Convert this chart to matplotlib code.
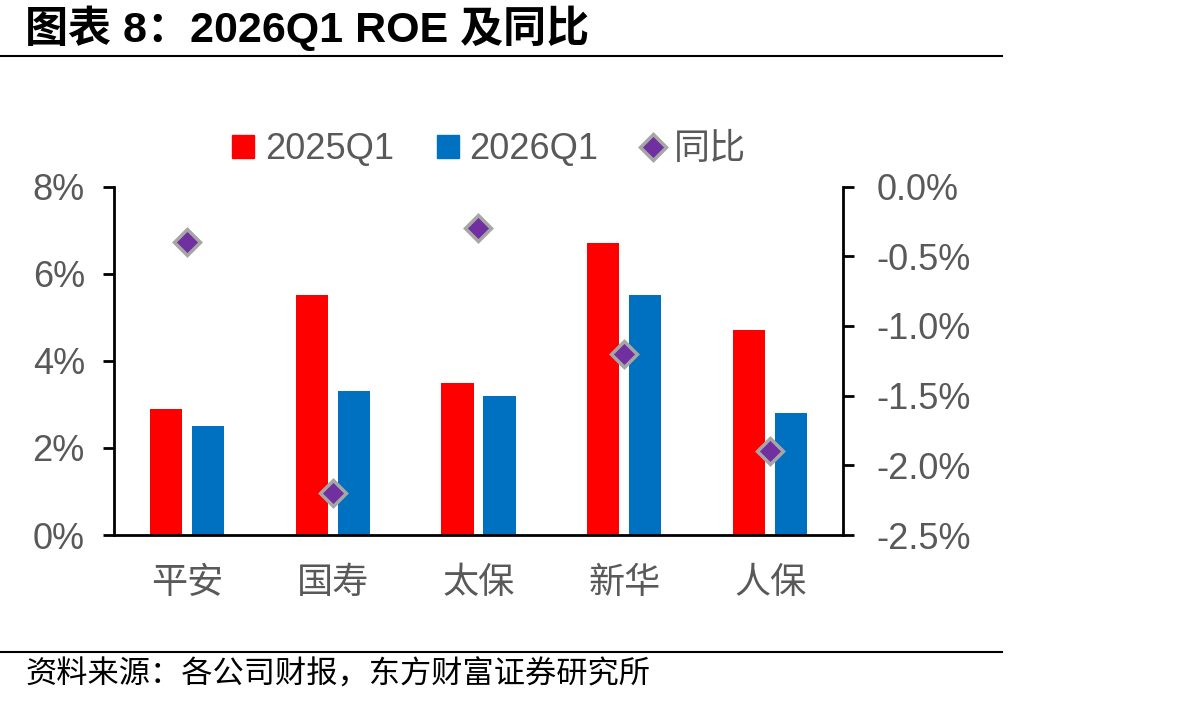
import numpy as np
import matplotlib
matplotlib.use('Agg')
import matplotlib.pyplot as plt
from matplotlib.lines import Line2D
from matplotlib.patches import Patch

plt.rcParams['font.family'] = ['Liberation Sans', 'Noto Sans CJK SC', 'DejaVu Sans']

# 数据
companies = ['平安', '国寿', '太保', '新华', '人保']
roe_2025q1 = [2.9, 5.5, 3.5, 6.7, 4.7]
roe_2026q1 = [2.5, 3.3, 3.2, 5.5, 2.8]
yoy = [-0.4, -2.2, -0.3, -1.2, -1.9]

left_ticks = [0, 2, 4, 6, 8]
left_labels = ['0%', '2%', '4%', '6%', '8%']
right_ticks = [-2.5, -2.0, -1.5, -1.0, -0.5, 0.0]
right_labels = ['-2.5%', '-2.0%', '-1.5%', '-1.0%', '-0.5%', '0.0%']

red = '#FF0000'
blue = '#0070C0'
gray = '#595959'

fig = plt.figure(figsize=(11.92, 7.06), dpi=100)
ax = fig.add_axes([0.0956, 0.2422, 0.6116, 0.4936])
ax2 = ax.twinx()

x = np.arange(len(companies))
w = 0.22
ax.bar(x - 0.144, roe_2025q1, width=w, color=red, zorder=2)
ax.bar(x + 0.144, roe_2026q1, width=w, color=blue, zorder=2)
ax2.plot(x, yoy, linestyle='none', marker='D', markersize=13,
         markerfacecolor='#7030A0', markeredgecolor='#A6A6A6', markeredgewidth=2.5)

ax.set_xlim(-0.5, 4.5)
ax.set_ylim(0, 8)
ax2.set_ylim(-2.5, 0)

ax.set_yticks(left_ticks)
ax.set_yticklabels(left_labels)
ax2.set_yticks(right_ticks)
ax2.set_yticklabels(right_labels)
ax.set_xticks(x)
ax.set_xticklabels(companies)

for a in (ax, ax2):
    a.spines['top'].set_visible(False)
    for s in a.spines.values():
        s.set_linewidth(2)
ax.spines['right'].set_visible(False)
ax2.spines['left'].set_visible(False)
ax2.spines['bottom'].set_visible(False)

ax.tick_params(axis='y', length=8, width=2, labelsize=26, labelcolor=gray, pad=13)
ax2.tick_params(axis='y', length=8, width=2, labelsize=26, labelcolor=gray, pad=16)
ax.tick_params(axis='x', length=0, labelsize=26, labelcolor=gray, pad=22)

handles = [Patch(color=red), Patch(color=blue),
           Line2D([], [], linestyle='none', marker='D', markersize=13,
                  markerfacecolor='#7030A0', markeredgecolor='#A6A6A6', markeredgewidth=2.5)]
labels = ['2025Q1', '2026Q1', '同比']
leg = ax.legend(handles, labels, ncol=3, frameon=False, loc='center',
                bbox_to_anchor=(0.515, 1.105), fontsize=26, handlelength=0.6,
                handleheight=0.6, handletextpad=0.3, columnspacing=1.2)
for t in leg.get_texts():
    t.set_color(gray)

# 标题与来源
fig.text(0.021, 0.96, '图表 8：2026Q1 ROE 及同比', fontsize=31, fontweight='bold',
         va='center', ha='left')
fig.add_artist(Line2D([0, 0.841], [0.921, 0.921], color='black', linewidth=1.5))
fig.add_artist(Line2D([0, 0.841], [0.077, 0.077], color='black', linewidth=1.5))
fig.text(0.021, 0.043, '资料来源：各公司财报，东方财富证券研究所', fontsize=22.5,
         va='center', ha='left')

fig.savefig('out.png', dpi=100)
